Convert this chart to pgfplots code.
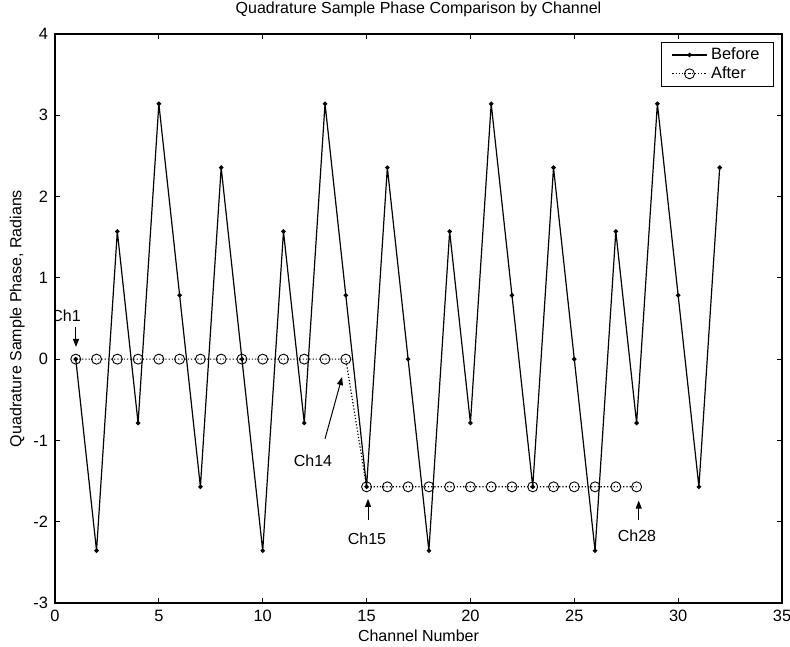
\documentclass[border=0pt]{standalone}
\usepackage{pgfplots}
\pgfplotsset{compat=1.18}
\usepackage{pgfplotstable}
\usepackage{fontspec}
\setmainfont{Liberation Sans}
\usetikzlibrary{arrows.meta}

% Phase of each channel before correction (multiples of pi/4)
\pgfplotstableread{
ch phase
1  0
2  -2.3562
3  1.5708
4  -0.7854
5  3.1416
6  0.7854
7  -1.5708
8  2.3562
9  0
10 -2.3562
11 1.5708
12 -0.7854
13 3.1416
14 0.7854
15 -1.5708
16 2.3562
17 0
18 -2.3562
19 1.5708
20 -0.7854
21 3.1416
22 0.7854
23 -1.5708
24 2.3562
25 0
26 -2.3562
27 1.5708
28 -0.7854
29 3.1416
30 0.7854
31 -1.5708
32 2.3562
}\beforetbl

% Phase after correction
\pgfplotstableread{
ch phase
1  0
2  0
3  0
4  0
5  0
6  0
7  0
8  0
9  0
10 0
11 0
12 0
13 0
14 0
15 -1.5708
16 -1.5708
17 -1.5708
18 -1.5708
19 -1.5708
20 -1.5708
21 -1.5708
22 -1.5708
23 -1.5708
24 -1.5708
25 -1.5708
26 -1.5708
27 -1.5708
28 -1.5708
}\aftertbl

\begin{document}
\begin{tikzpicture}[font=\fontsize{8}{9.6}\selectfont]
\begin{axis}[
  scale only axis,
  width=363.5pt, height=284.5pt,
  xmin=0, xmax=35, ymin=-3, ymax=4,
  xtick={0,5,...,35}, ytick={-3,-2,...,4},
  tick align=inside,
  major tick length=2.5pt,
  axis line style={line width=0.7pt},
  every tick/.style={black, line width=0.5pt},
  /pgf/number format/assume math mode=true,
  ticklabel style={font=\fontsize{8.2}{9.8}\selectfont},
  title={Quadrature Sample Phase Comparison by Channel},
  title style={at={(axis description cs:0.5,1)}, anchor=base, yshift=4.5pt, inner sep=0pt},
  xlabel={Channel Number},
  xlabel style={at={(axis description cs:0.5,0)}, anchor=base, yshift=-19.5pt, inner sep=0pt},
  ylabel={Quadrature Sample Phase, Radians},
  ylabel style={at={(axis description cs:-0.052,0.5)}, anchor=center, inner sep=0pt},
  legend style={at={(axis description cs:1,1)}, anchor=north east, xshift=-4pt, yshift=-4pt,
    draw=black, line width=0.5pt, fill=white, font=\fontsize{8.2}{9.6}\selectfont,
    inner xsep=5pt, inner ysep=0.5pt, row sep=-2pt},
  legend cell align=left,
]
\addplot[black, line width=0.6pt, mark=*, mark size=0.8pt] table[x=ch, y=phase] {\beforetbl};
\addlegendentry{Before}
\addplot[black, line width=0.6pt, densely dotted, mark=o, mark size=2.5pt,
  mark options={solid, line width=0.45pt}] table[x=ch, y=phase] {\aftertbl};
\addlegendentry{After}

% channel callouts
\node at (axis cs:0.53,0.53) {Ch1};
\draw[-{Triangle[length=4pt,width=3pt]}, line width=0.5pt] (axis cs:1.01,0.39) -- (axis cs:1.01,0.15);
\node at (axis cs:12.42,-1.25) {Ch14};
\draw[-{Triangle[length=4pt,width=3pt]}, line width=0.5pt] (axis cs:13.0,-0.98) -- (axis cs:13.82,-0.22);
\node at (axis cs:15.02,-2.21) {Ch15};
\draw[-{Triangle[length=4pt,width=3pt]}, line width=0.5pt] (axis cs:15.07,-1.98) -- (axis cs:15.07,-1.72);
\node at (axis cs:28.02,-2.17) {Ch28};
\draw[-{Triangle[length=4pt,width=3pt]}, line width=0.5pt] (axis cs:28.1,-1.98) -- (axis cs:28.1,-1.74);
\end{axis}
\pgfresetboundingbox
\path ([shift={(-27.5pt,-21.5pt)}]current axis.south west) rectangle ([shift={(4pt,17pt)}]current axis.north east);
\end{tikzpicture}
\end{document}
